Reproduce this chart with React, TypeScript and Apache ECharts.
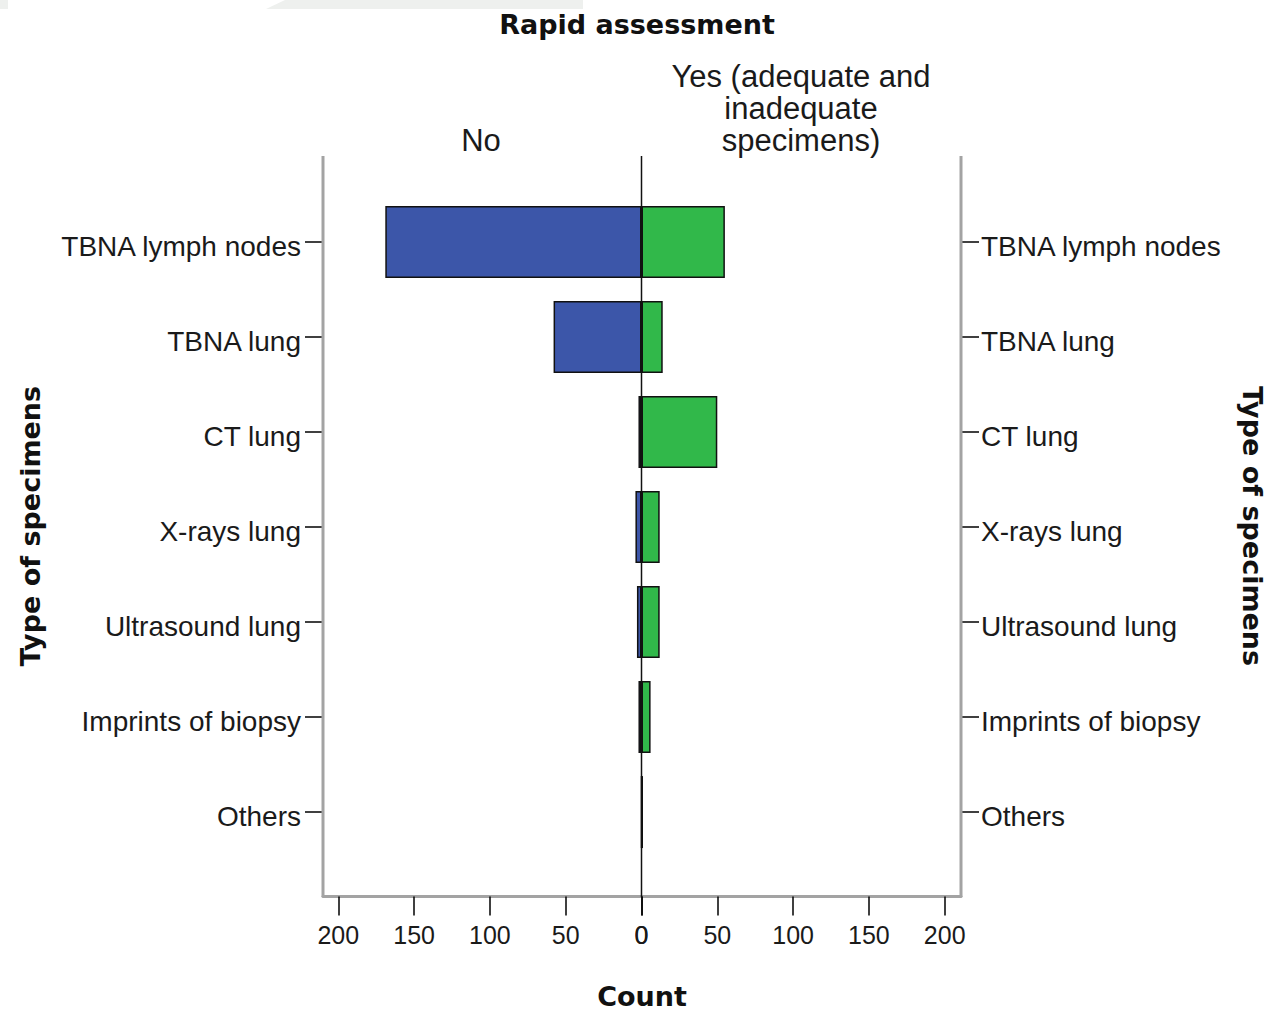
import React, { useEffect, useRef } from "react";
import * as echarts from "echarts";

const categories = [
  "TBNA lymph nodes",
  "TBNA lung",
  "CT lung",
  "X-rays lung",
  "Ultrasound lung",
  "Imprints of biopsy",
  "Others",
];
const noCounts = [169, 58, 2, 4, 3, 2, 0];
const yesCounts = [55, 14, 50, 12, 12, 6, 1];
const tickValues = [0, 50, 100, 150, 200];
const titleText = "Rapid assessment";
const noHeader = "No";
const yesHeader = "Yes (adequate and\ninadequate\nspecimens)";
const yName = "Type of specimens";
const xName = "Count";

const REG = "'Liberation Sans', Arial, sans-serif";
const BOLD = "'DejaVu Sans', sans-serif";
const FRAME = "#a3a3a3";
const TEXT = "#1a1a1a";

export default function App() {
  const ref = useRef<HTMLDivElement>(null);
  useEffect(() => {
    if (!ref.current) return;
    const chart = echarts.init(ref.current, null, { renderer: "svg" });
    const zeroX = 641.5;
    const leftX = 323;
    const rightX = 961;
    const frameTop = 156;
    const frameBottom = 897;
    const barTop = 194.4;
    const barH = 665.2;
    const pxPerUnit = 1.516;
    const xAxisCommon = (gridIndex: number, inverse: boolean, max: number) => ({
      gridIndex,
      type: "value",
      inverse,
      min: 0,
      max,
      position: "bottom",
      offset: frameBottom - 0.5 - (barTop + barH),
      axisLine: { show: true, onZero: false, lineStyle: { color: FRAME, width: 3 } },
      axisTick: { show: true, customValues: tickValues, length: 19, lineStyle: { color: "#000", width: 1.5 } },
      axisLabel: { customValues: tickValues, fontSize: 25, color: TEXT, margin: 26, fontFamily: REG },
      splitLine: { show: false },
    });
    const yAxisCommon = (gridIndex: number, position: string, margin: number) => ({
      gridIndex,
      type: "category",
      data: categories,
      inverse: true,
      position,
      axisLine: { show: false, onZero: false },
      axisTick: { show: true, alignWithLabel: true, length: 18, lineStyle: { color: "#000", width: 1.5 } },
      axisLabel: { fontSize: 28, color: TEXT, margin, fontFamily: REG, verticalAlign: "top", lineHeight: 9 },
      splitLine: { show: false },
    });
    chart.setOption({
      animation: false,
      backgroundColor: "#ffffff",
      title: {
        text: titleText,
        left: "center",
        top: 6,
        textStyle: { fontSize: 27, fontWeight: "bold", fontFamily: BOLD, color: "#111" },
      },
      grid: [
        { left: leftX, top: barTop, width: zeroX - leftX, height: barH, containLabel: false },
        { left: zeroX, top: barTop, width: rightX - zeroX, height: barH, containLabel: false },
      ],
      xAxis: [
        xAxisCommon(0, true, (zeroX - leftX) / pxPerUnit),
        xAxisCommon(1, false, (rightX - zeroX) / pxPerUnit),
      ],
      yAxis: [yAxisCommon(0, "left", 22), yAxisCommon(1, "right", 20)],
      series: [
        {
          name: "No",
          type: "bar",
          xAxisIndex: 0,
          yAxisIndex: 0,
          data: noCounts,
          barWidth: 72,
          itemStyle: { color: "#3c56a9", borderColor: "#111", borderWidth: 1.5 },
        },
        {
          name: "Yes",
          type: "bar",
          xAxisIndex: 1,
          yAxisIndex: 1,
          data: yesCounts,
          barWidth: 72,
          itemStyle: { color: "#31b84a", borderColor: "#111", borderWidth: 1.5 },
        },
      ],
      graphic: [
        {
          type: "polygon",
          z: 0,
          shape: { points: [[0, 0], [8, 0], [8, 9], [0, 9]] },
          style: { fill: "#eef0ee" },
        },
        {
          type: "polygon",
          z: 0,
          shape: { points: [[285, 0], [583, 0], [583, 9], [266, 9]] },
          style: { fill: "#eef0ee" },
        },
        {
          type: "line",
          z: 50,
          shape: { x1: leftX, y1: frameTop, x2: leftX, y2: frameBottom },
          style: { stroke: FRAME, lineWidth: 3 },
        },
        {
          type: "line",
          z: 50,
          shape: { x1: rightX, y1: frameTop, x2: rightX, y2: frameBottom },
          style: { stroke: FRAME, lineWidth: 3 },
        },
        {
          type: "line",
          z: 60,
          shape: { x1: zeroX, y1: frameTop, x2: zeroX, y2: frameBottom },
          style: { stroke: "#111", lineWidth: 1.5 },
        },
        {
          type: "text",
          x: 481,
          y: 140,
          style: { text: noHeader, fontSize: 31, fontFamily: REG, fill: TEXT, align: "center", verticalAlign: "middle" },
        },
        {
          type: "text",
          x: 801,
          y: 108,
          style: {
            text: yesHeader,
            fontSize: 31,
            lineHeight: 32,
            fontFamily: REG,
            fill: TEXT,
            align: "center",
            verticalAlign: "middle",
          },
        },
        {
          type: "text",
          x: 30,
          y: 526,
          rotation: Math.PI / 2,
          style: { text: yName, fontSize: 27, fontWeight: "bold", fontFamily: BOLD, fill: "#111", align: "center", verticalAlign: "middle" },
        },
        {
          type: "text",
          x: 1252,
          y: 526,
          rotation: -Math.PI / 2,
          style: { text: yName, fontSize: 27, fontWeight: "bold", fontFamily: BOLD, fill: "#111", align: "center", verticalAlign: "middle" },
        },
        {
          type: "text",
          x: 642,
          y: 996,
          style: { text: xName, fontSize: 27, fontWeight: "bold", fontFamily: BOLD, fill: "#111", align: "center", verticalAlign: "middle" },
        },
      ],
    });
    return () => chart.dispose();
  }, []);
  return (
    <div
      ref={ref}
      style={{ position: "absolute", left: 0, top: 0, width: 1274, height: 1011 }}
    />
  );
}
